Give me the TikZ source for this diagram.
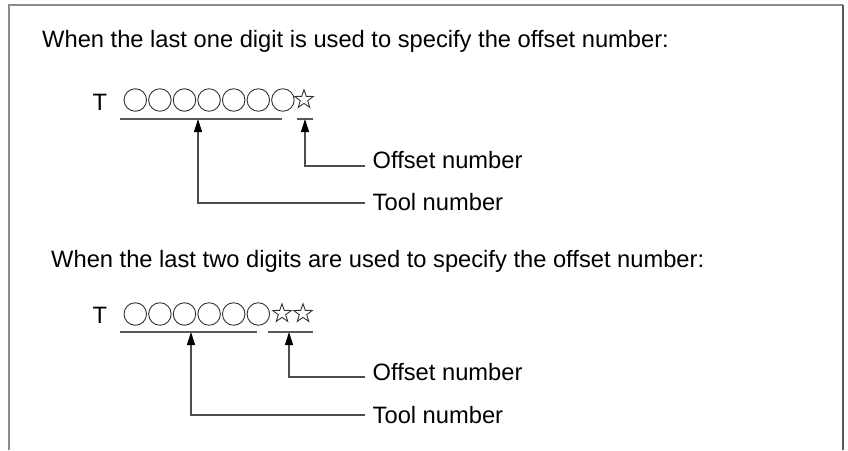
\documentclass[tikz,border=0pt]{standalone}
\usepackage{fontspec}
\setmainfont{Liberation Sans}
\usetikzlibrary{shapes.geometric,arrows.meta}
\begin{document}
\begin{tikzpicture}[x=1pt,y=-1pt,
  lbl/.style={inner sep=0pt, anchor=base west, font=\fontsize{23.7}{28}\selectfont},
  circ/.style={circle, draw=black!80, line width=0.9pt, minimum size=22.5pt, inner sep=0pt},
  starsym/.style={star, star points=5, star point ratio=2.5, draw=black!80, line width=0.9pt, minimum size=19.5pt, inner sep=0pt},
  uline/.style={draw=black!65, line width=1.3pt},
  lead/.style={draw=black!70, line width=1.1pt, -{Triangle[length=13pt,width=8pt,black]}},
  frameL/.style={draw=black!45, line width=2pt},
  frameR/.style={draw=black!65, line width=1.2pt},
]
\useasboundingbox (0,0) rectangle (848,450);
% frame
\draw[frameL] (9,450) -- (9,5) -- (843,5);
\draw[frameR] (843,5) -- (843,450);

% ---------- block 1 ----------
\node[lbl] (h1) at (42,47) {When the last one digit is used to specify the offset number:};
\node[lbl] (t1) at (92.5,110) {T};
\foreach \k in {0,...,6} {
  \node[circ] (c1\k) at ({135.3+24.6*\k},100) {};
}
\node[starsym] (s1) at (304,99.5) {};
\coordinate (u1a) at (120,119);
\coordinate (u1b) at (282,119);
\coordinate (u1c) at (297,119);
\coordinate (u1d) at (313,119);
\draw[uline] (u1a) -- (u1b);
\draw[uline] (u1c) -- (u1d);
\coordinate (tip1t) at (198,119);
\coordinate (tip1o) at (305,119);
\node[lbl] (off1) at (372.5,168) {Offset number};
\node[lbl] (tool1) at (372.5,210) {Tool number};
\draw[lead] ([xshift=-8pt,yshift=2pt]off1.base west) -| (tip1o);
\draw[lead] ([xshift=-8pt,yshift=7pt]tool1.base west) -| (tip1t);

% ---------- block 2 ----------
\node[lbl] (h2) at (51,267) {When the last two digits are used to specify the offset number:};
\node[lbl] (t2) at (92.5,323) {T};
\foreach \k in {0,...,5} {
  \node[circ] (c2\k) at ({135.3+24.6*\k},314) {};
}
\node[starsym] (s2a) at (282,313.5) {};
\node[starsym] (s2b) at (303,313.5) {};
\coordinate (u2a) at (120,332);
\coordinate (u2b) at (257,332);
\coordinate (u2c) at (268,332);
\coordinate (u2d) at (313,332);
\draw[uline] (u2a) -- (u2b);
\draw[uline] (u2c) -- (u2d);
\coordinate (tip2t) at (191,332);
\coordinate (tip2o) at (289,332);
\node[lbl] (off2) at (372.5,380) {Offset number};
\node[lbl] (tool2) at (372.5,423) {Tool number};
\draw[lead] ([xshift=-8pt,yshift=3pt]off2.base west) -| (tip2o);
\draw[lead] ([xshift=-8pt,yshift=8pt]tool2.base west) -| (tip2t);
\end{tikzpicture}
\end{document}
